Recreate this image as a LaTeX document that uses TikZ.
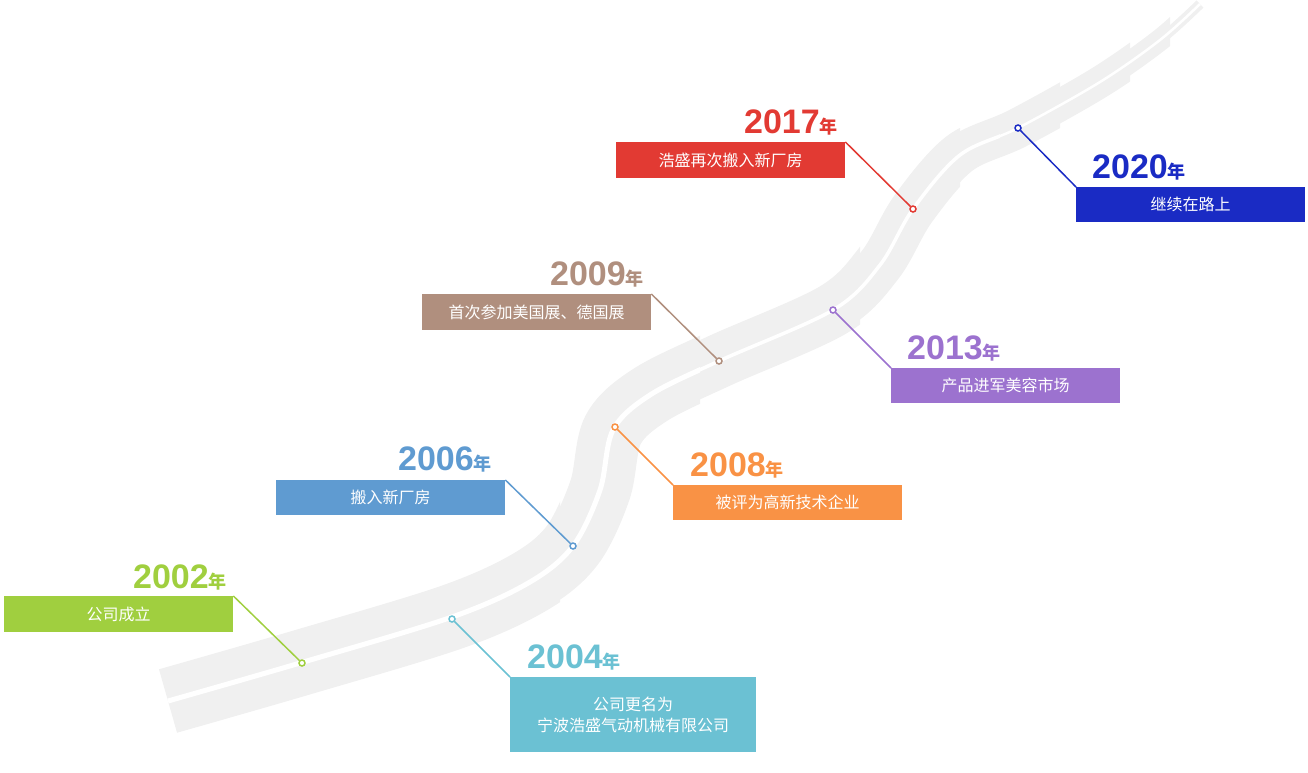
\documentclass[tikz,border=0pt]{standalone}
\usepackage{fontspec}
\setmainfont{Liberation Sans}
\newfontfamily\cjk{Noto Sans CJK SC}
\begin{document}
\begin{tikzpicture}[x=1pt,y=-1pt,
  lbl/.style={fill=#1,text=white,font=\cjk\fontsize{16}{21}\selectfont,inner sep=0pt,align=center},
  yr/.style={text=#1,font=\bfseries\fontsize{34}{34}\selectfont,inner sep=0pt},
  con/.style={draw=#1,line width=1.5pt},
  dot/.style={circle,draw=#1,fill=white,line width=1.5pt,inner sep=0pt,minimum size=6pt}]
\useasboundingbox (0,0) rectangle (1308,772);
\def\road{plot[smooth,tension=0.55] coordinates{(168,701) (300,663) (452,617) (530,582) (573,546) (600,490) (613,430) (650,395) (719,361) (833,310) (880,265) (913,209) (960,155) (1018,128) (1100,82) (1160,40) (1200,4)}}
\foreach \xa/\xb/\w in {0/560/66, 560/700/62, 700/860/54, 860/960/46, 960/1060/40, 1060/1130/32, 1130/1170/22, 1170/1310/10}{
  \begin{scope}\clip (\xa,-50) rectangle (\xb,850);
  \draw[line width=\w pt,color=black!6] \road;
  \end{scope}}
\foreach \xa/\xb/\w in {0/700/5, 700/1000/3.5, 1000/1310/2.5}{
  \begin{scope}\clip (\xa,-50) rectangle (\xb,850);
  \draw[line width=\w pt,white] \road;
  \end{scope}}
% colors
\definecolor{c02}{HTML}{A0CF3F}\definecolor{c04}{HTML}{6BC1D3}
\definecolor{c06}{HTML}{5F9BD1}\definecolor{c08}{HTML}{F99245}
\definecolor{c09}{HTML}{B08F7E}\definecolor{c13}{HTML}{9C72CF}
\definecolor{c17}{HTML}{E23A33}\definecolor{c20}{HTML}{1A2BC4}
% 2002
\node[lbl=c02,minimum width=229pt,minimum height=36pt,anchor=north west] (b02) at (4,596) {公司成立};
\node[yr=c02,anchor=base east] (y02) at (227,588) {2002{\cjk\fontsize{18}{18}\selectfont 年}};
\node[dot=c02] (d02) at (302,663) {};
\draw[con=c02] (b02.north east) -- (d02);
% 2004
\node[lbl=c04,minimum width=246pt,minimum height=75pt,anchor=north west] (b04) at (510,677) {公司更名为\\宁波浩盛气动机械有限公司};
\node[yr=c04,anchor=base west] (y04) at (527,668) {2004{\cjk\fontsize{18}{18}\selectfont 年}};
\node[dot=c04] (d04) at (452,619) {};
\draw[con=c04] (b04.north west) -- (d04);
% 2006
\node[lbl=c06,minimum width=229pt,minimum height=35pt,anchor=north west] (b06) at (276,480) {搬入新厂房};
\node[yr=c06,anchor=base east] (y06) at (492,470) {2006{\cjk\fontsize{18}{18}\selectfont 年}};
\node[dot=c06] (d06) at (573,546) {};
\draw[con=c06] (b06.north east) -- (d06);
% 2008
\node[lbl=c08,minimum width=229pt,minimum height=35pt,anchor=north west] (b08) at (673,485) {被评为高新技术企业};
\node[yr=c08,anchor=base west] (y08) at (690,476) {2008{\cjk\fontsize{18}{18}\selectfont 年}};
\node[dot=c08] (d08) at (615,427) {};
\draw[con=c08] (b08.north west) -- (d08);
% 2009
\node[lbl=c09,minimum width=229pt,minimum height=36pt,anchor=north west] (b09) at (422,294) {首次参加美国展、德国展};
\node[yr=c09,anchor=base east] (y09) at (644,285) {2009{\cjk\fontsize{18}{18}\selectfont 年}};
\node[dot=c09] (d09) at (719,361) {};
\draw[con=c09] (b09.north east) -- (d09);
% 2013
\node[lbl=c13,minimum width=229pt,minimum height=35pt,anchor=north west] (b13) at (891,368) {产品进军美容市场};
\node[yr=c13,anchor=base west] (y13) at (907,359) {2013{\cjk\fontsize{18}{18}\selectfont 年}};
\node[dot=c13] (d13) at (833,310) {};
\draw[con=c13] (b13.north west) -- (d13);
% 2017
\node[lbl=c17,minimum width=229pt,minimum height=36pt,anchor=north west] (b17) at (616,142) {浩盛再次搬入新厂房};
\node[yr=c17,anchor=base east] (y17) at (838,133) {2017{\cjk\fontsize{18}{18}\selectfont 年}};
\node[dot=c17] (d17) at (913,209) {};
\draw[con=c17] (b17.north east) -- (d17);
% 2020
\node[lbl=c20,minimum width=229pt,minimum height=35pt,anchor=north west] (b20) at (1076,187) {继续在路上};
\node[yr=c20,anchor=base west] (y20) at (1092,178) {2020{\cjk\fontsize{18}{18}\selectfont 年}};
\node[dot=c20] (d20) at (1018,128) {};
\draw[con=c20] (b20.north west) -- (d20);
\end{tikzpicture}
\end{document}
